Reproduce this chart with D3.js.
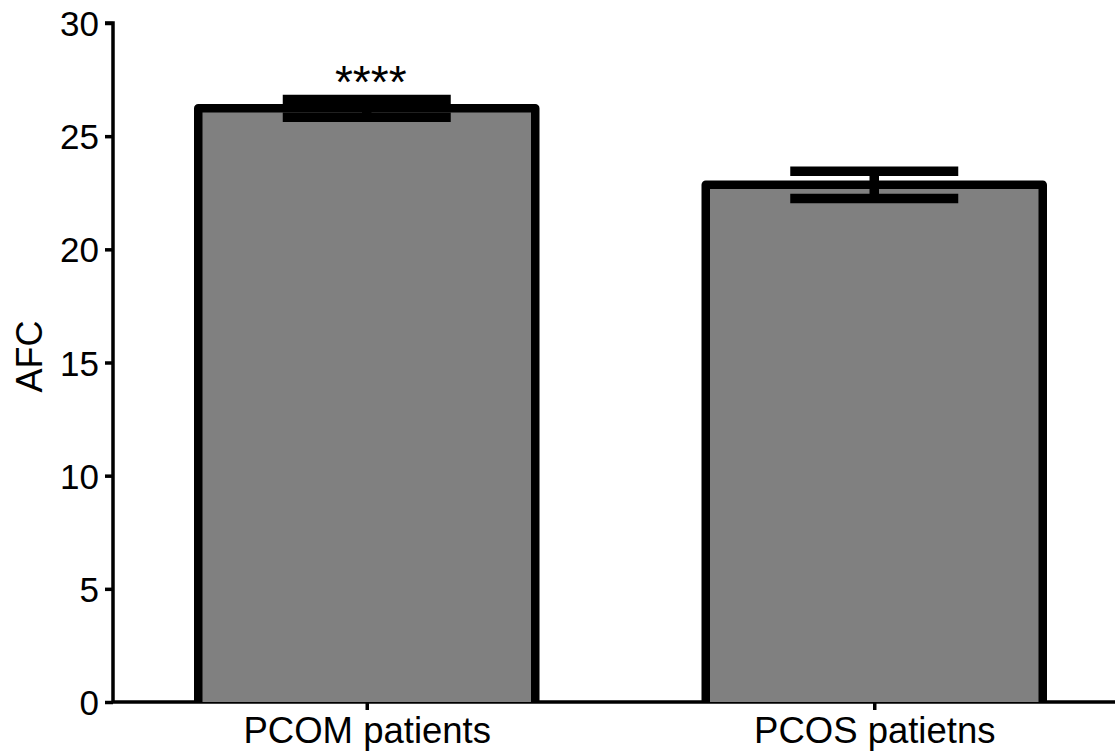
<!DOCTYPE html>
<html>
<head>
<meta charset="utf-8">
<script src="https://cdn.jsdelivr.net/npm/d3@7"></script>
<style>
  html, body { margin: 0; padding: 0; background: #fff; }
  svg { display: block; }
  text { font-family: "Liberation Sans", Arial, Helvetica, sans-serif; fill: #000; }
</style>
</head>
<body>
<svg id="chart" width="1115" height="756"></svg>
<script>
const categories = ["PCOM patients", "PCOS patietns"];
const means = [26.23, 22.85];
const sems = [0.39, 0.6];
const significance = ["****", ""];
const yTicks = [0, 5, 10, 15, 20, 25, 30];
const yLabel = "AFC";

const svg = d3.select("#chart");
const x0 = 113, yTop = 23, yBottom = 702;

const y = d3.scaleLinear().domain([0, 30]).range([yBottom, yTop]);
const x = d3.scalePoint().domain(categories).range([x0, 1128]).padding(0.5);

const barW = 337, capHalf = 84;

// axes
const yAxis = svg.append("g").attr("transform", `translate(${x0},0)`)
  .call(d3.axisLeft(y).tickValues(yTicks).tickSize(8).tickPadding(6).tickFormat(d3.format("d")));
yAxis.select(".domain").attr("stroke", "#000").attr("stroke-width", 3.5).attr("d", `M-8,${y(30)}H0V${y(0)}`);
yAxis.selectAll(".tick line").attr("stroke", "#000").attr("stroke-width", 3.5);
yAxis.selectAll(".tick text").style("font-size", "35px").attr("dy", "0.36em");

const xAxis = svg.append("g").attr("transform", `translate(0,${yBottom})`)
  .call(d3.axisBottom(x).tickSize(8).tickPadding(6));
xAxis.select(".domain").attr("stroke", "#000").attr("stroke-width", 3.5).attr("d", `M${x0},0H1115`);
xAxis.selectAll(".tick line").attr("stroke", "#000").attr("stroke-width", 3.5);
xAxis.selectAll(".tick text").style("font-size", "36.5px").attr("dy", "0.75em");

// bars (open bottom)
svg.append("g").selectAll("path").data(categories).join("path")
  .attr("d", (c, i) => {
    const cx = x(c), l = cx - barW / 2, r = cx + barW / 2;
    return `M${l},${y(0)}V${y(means[i])}H${r}V${y(0)}Z`;
  })
  .attr("fill", "#808080").attr("stroke", "none");
svg.append("g").selectAll("path").data(categories).join("path")
  .attr("d", (c, i) => {
    const cx = x(c), l = cx - barW / 2, r = cx + barW / 2;
    return `M${l},${y(0)}V${y(means[i])}H${r}V${y(0)}`;
  })
  .attr("fill", "none").attr("stroke", "#000").attr("stroke-width", 8.5).attr("stroke-linejoin", "round");

// error bars
const eb = svg.append("g").attr("stroke", "#000").attr("stroke-width", 9.5);
categories.forEach((c, i) => {
  const cx = x(c);
  eb.append("line").attr("x1", cx).attr("x2", cx).attr("y1", y(means[i] - sems[i])).attr("y2", y(means[i] + sems[i]));
  eb.append("line").attr("x1", cx - capHalf).attr("x2", cx + capHalf).attr("y1", y(means[i] + sems[i])).attr("y2", y(means[i] + sems[i]));
  eb.append("line").attr("x1", cx - capHalf).attr("x2", cx + capHalf).attr("y1", y(means[i] - sems[i])).attr("y2", y(means[i] - sems[i]));
});

// significance
svg.append("g").selectAll("text").data(categories).join("text")
  .attr("x", c => x(c) + 4)
  .attr("y", (c, i) => y(means[i] + sems[i]) - 2)
  .attr("text-anchor", "middle")
  .style("font-size", "46px")
  .text((c, i) => significance[i]);

// y label
svg.append("text")
  .attr("transform", `translate(42,${(yTop + yBottom) / 2 - 6}) rotate(-90)`)
  .attr("text-anchor", "middle")
  .style("font-size", "36px")
  .text(yLabel);
</script>
</body>
</html>
